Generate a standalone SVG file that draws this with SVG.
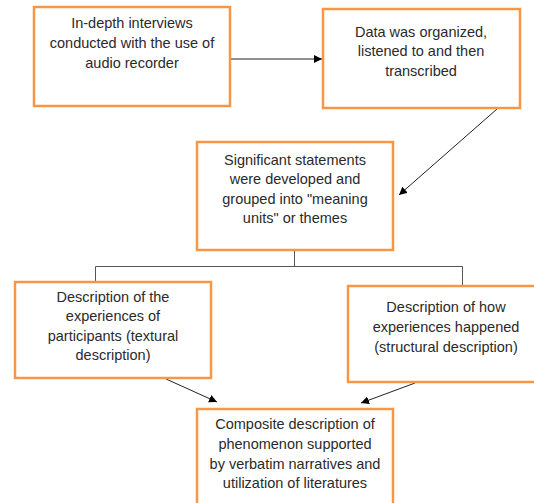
<svg xmlns="http://www.w3.org/2000/svg" width="534" height="503" viewBox="0 0 534 503">
<defs>
<style>
.box{fill:#fff;stroke:#F79646;stroke-width:2.5}
.t{font-family:"Liberation Sans",Arial,sans-serif;font-size:14.5px;fill:#2a2a2a;text-anchor:middle}
.c{stroke:#222;stroke-width:1;fill:none}
.tree{stroke:#555;stroke-width:1;fill:none}
</style>
<marker id="ah" viewBox="0 0 10 10" refX="10" refY="5" markerWidth="8" markerHeight="8" markerUnits="userSpaceOnUse" orient="auto">
<path d="M0,0 L10,5 L0,10 z" fill="#000"/>
</marker>
</defs>
<rect width="534" height="503" fill="#fff"/>
<g id="connectors">
<line class="c" x1="230" y1="59" x2="322" y2="59" marker-end="url(#ah)"/>
<line class="c" x1="497" y1="109" x2="399" y2="195" marker-end="url(#ah)"/>
<polyline class="tree" points="294.5,251 294.5,266.5"/>
<polyline class="tree" points="95.5,282 95.5,266.5 462.5,266.5 462.5,286"/>
<line class="c" x1="166" y1="379" x2="217" y2="402" marker-end="url(#ah)"/>
<line class="c" x1="415" y1="383" x2="361" y2="403" marker-end="url(#ah)"/>
</g>
<g id="n1">
<rect class="box" x="34" y="7" width="196" height="99"/>
<text class="t" x="132" y="28">In-depth interviews</text>
<text class="t" x="132" y="48">conducted with the use of</text>
<text class="t" x="132" y="68">audio recorder</text>
</g>
<g id="n2">
<rect class="box" x="323" y="9" width="197" height="99"/>
<text class="t" x="421" y="37">Data was organized,</text>
<text class="t" x="421" y="56">listened to and then</text>
<text class="t" x="421" y="76">transcribed</text>
</g>
<g id="n3">
<rect class="box" x="197" y="142" width="196" height="108"/>
<text class="t" x="295" y="165">Significant statements</text>
<text class="t" x="295" y="184">were developed and</text>
<text class="t" x="295" y="204">grouped into "meaning</text>
<text class="t" x="295" y="223">units" or themes</text>
</g>
<g id="n4">
<rect class="box" x="15" y="282" width="196" height="96"/>
<text class="t" x="113" y="302">Description of the</text>
<text class="t" x="113" y="321">experiences of</text>
<text class="t" x="113" y="341">participants (textural</text>
<text class="t" x="113" y="360">description)</text>
</g>
<g id="n5">
<rect class="box" x="348" y="286" width="190" height="96"/>
<text class="t" x="446" y="312">Description of how</text>
<text class="t" x="446" y="332">experiences happened</text>
<text class="t" x="446" y="352">(structural description)</text>
</g>
<g id="n6">
<rect class="box" x="197" y="409" width="196" height="100"/>
<text class="t" x="295" y="429">Composite description of</text>
<text class="t" x="295" y="449">phenomenon supported</text>
<text class="t" x="295" y="469">by verbatim narratives and</text>
<text class="t" x="295" y="488">utilization of literatures</text>
</g>
</svg>
